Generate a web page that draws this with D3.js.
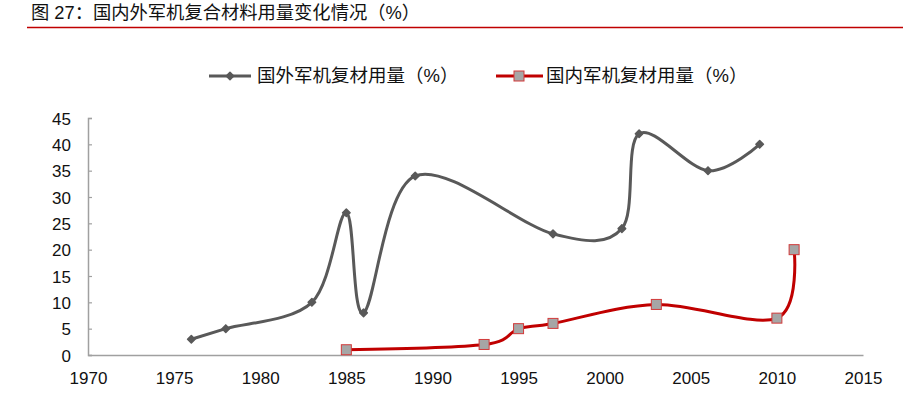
<!DOCTYPE html>
<html>
<head>
<meta charset="utf-8">
<script src="https://cdn.jsdelivr.net/npm/d3@7"></script>
<style>
  body { margin: 0; background: #fff; }
  svg { display: block; font-family: "Liberation Sans", Arial, "Noto Sans CJK SC", sans-serif; }
</style>
</head>
<body>
<svg id="svg" width="903" height="399"></svg>
<script>
// data
var foreignYears = [1976, 1978, 1983, 1985, 1986, 1989, 1997, 2001, 2002, 2006, 2009];
var foreignVals  = [3, 5, 10, 27, 8, 34, 23, 24, 42, 35, 40];
var domesticYears = [1985, 1993, 1995, 1997, 2003, 2010, 2011];
var domesticVals  = [1, 2, 5, 6, 9.6, 7, 20];
var xTicks = [1970, 1975, 1980, 1985, 1990, 1995, 2000, 2005, 2010, 2015];
var yTicks = [0, 5, 10, 15, 20, 25, 30, 35, 40, 45];
var seriesNames = ["国外军机复材用量（%）", "国内军机复材用量（%）"];
var title = "图 27：国内外军机复合材料用量变化情况（%）";

var svg = d3.select("#svg");

var x = d3.scaleLinear().domain([1970, 2015]).range([88, 863]);
var y = d3.scaleLinear().domain([0, 45]).range([355, 118]);

// title + red rule
svg.append("text")
  .attr("x", 31)
  .attr("y", 19)
  .attr("font-size", 18.3)
  .attr("fill", "#111")
  .text(title);
svg.append("line")
  .attr("x1", 27).attr("x2", 903)
  .attr("y1", 27.5).attr("y2", 27.5)
  .attr("stroke", "#C00000")
  .attr("stroke-width", 1.5);

// axes
var yAxis = d3.axisLeft(y).tickValues(yTicks).tickSize(-4).tickPadding(17);
var gy = svg.append("g").attr("transform", "translate(" + x(1970) + ",0)").call(yAxis);
var xAxis = d3.axisBottom(x).tickValues(xTicks).tickSize(0).tickPadding(17).tickFormat(d3.format("d"));
var gx = svg.append("g").attr("transform", "translate(0," + y(0) + ")").call(xAxis);

[gx, gy].forEach(function(g) {
  g.select(".domain").attr("stroke", "#A0A0A0").attr("stroke-width", 1.5);
  g.selectAll(".tick line").attr("stroke", "#A0A0A0").attr("stroke-width", 1.2);
  g.selectAll("text").attr("font-size", 17).attr("fill", "#111")
    .attr("font-family", "'Liberation Sans', Arial, sans-serif");
});
gy.selectAll("text").attr("dy", "0.36em");

var line = d3.line()
  .x(function(d) { return x(d[0]); })
  .y(function(d) { return y(d[1]); })
  .curve(d3.curveCatmullRom.alpha(0));

var foreign = foreignYears.map(function(d, i) { return [d, foreignVals[i]]; });
var domestic = domesticYears.map(function(d, i) { return [d, domesticVals[i]]; });

svg.append("path").datum(foreign)
  .attr("d", line)
  .attr("fill", "none")
  .attr("stroke", "#595959")
  .attr("stroke-width", 3);

svg.append("path").datum(domestic)
  .attr("d", line)
  .attr("fill", "none")
  .attr("stroke", "#C00000")
  .attr("stroke-width", 3);

var diamond = d3.symbol().type(d3.symbolDiamond2).size(36);

svg.selectAll(".fmark").data(foreign).enter().append("path")
  .attr("class", "fmark")
  .attr("d", diamond)
  .attr("transform", function(d) { return "translate(" + x(d[0]) + "," + y(d[1]) + ")"; })
  .attr("fill", "#595959")
  .attr("stroke", "#595959")
  .attr("stroke-width", 1.5)
  .attr("stroke-linejoin", "round");

svg.selectAll(".dmark").data(domestic).enter().append("rect")
  .attr("class", "dmark")
  .attr("x", function(d) { return x(d[0]) - 5; })
  .attr("y", function(d) { return y(d[1]) - 5; })
  .attr("width", 10).attr("height", 10)
  .attr("fill", "#A6A6A6")
  .attr("stroke", "#D23A3A")
  .attr("stroke-width", 1);

// legend
var lg = svg.append("g");
lg.append("line").attr("x1", 209).attr("x2", 251).attr("y1", 76).attr("y2", 76)
  .attr("stroke", "#595959").attr("stroke-width", 3);
lg.append("path").attr("d", diamond).attr("transform", "translate(230,76)")
  .attr("fill", "#595959").attr("stroke", "#595959").attr("stroke-width", 1.5)
  .attr("stroke-linejoin", "round");
lg.append("text").attr("x", 257).attr("y", 82).attr("font-size", 18.5).attr("fill", "#111").text(seriesNames[0]);

lg.append("line").attr("x1", 496).attr("x2", 543).attr("y1", 76).attr("y2", 76)
  .attr("stroke", "#C00000").attr("stroke-width", 3);
lg.append("rect").attr("x", 514).attr("y", 71).attr("width", 10).attr("height", 10)
  .attr("fill", "#A6A6A6").attr("stroke", "#D23A3A").attr("stroke-width", 1);
lg.append("text").attr("x", 546).attr("y", 82).attr("font-size", 18.5).attr("fill", "#111").text(seriesNames[1]);
</script>
</body>
</html>
